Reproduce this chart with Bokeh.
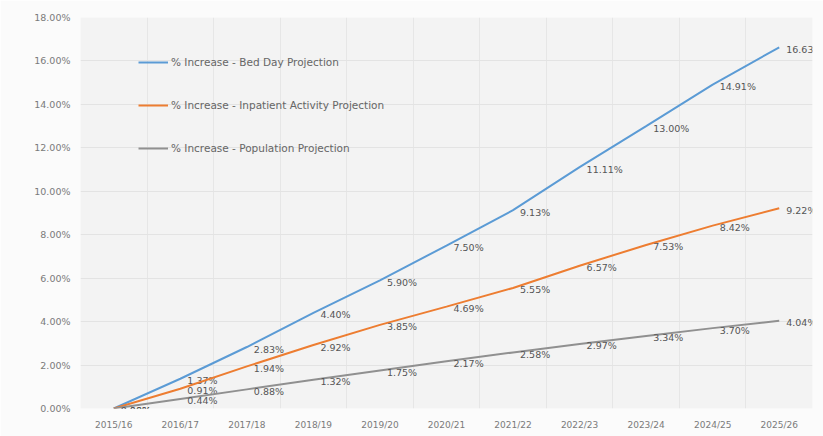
from bokeh.plotting import figure
from bokeh.models import FixedTicker, Legend, LegendItem, ColumnDataSource
from bokeh.core.properties import value
from bokeh.embed import file_html
from bokeh.resources import INLINE

years = ["2015/16", "2016/17", "2017/18", "2018/19", "2019/20", "2020/21",
         "2021/22", "2022/23", "2023/24", "2024/25", "2025/26"]
bed_day = [0.00, 1.37, 2.83, 4.40, 5.90, 7.50, 9.13, 11.11, 13.00, 14.91, 16.63]
inpatient = [0.00, 0.91, 1.94, 2.92, 3.85, 4.69, 5.55, 6.57, 7.53, 8.42, 9.22]
population = [0.00, 0.44, 0.88, 1.32, 1.75, 2.17, 2.58, 2.97, 3.34, 3.70, 4.04]
y_ticks = [0, 2, 4, 6, 8, 10, 12, 14, 16, 18]

series = [
    ("% Increase - Bed Day Projection", bed_day, "#5b9bd5"),
    ("% Increase - Inpatient Activity Projection", inpatient, "#ed7d31"),
    ("% Increase - Population Projection", population, "#909090"),
]

FONT = "DejaVu Sans"

p = figure(width=823, height=436, output_backend="svg", toolbar_location=None,
           x_range=(-0.5, 10.5), y_range=(0, 18),
           min_border_left=80, min_border_right=11, min_border_top=17, min_border_bottom=28)
p.background_fill_color = "#f3f3f3"
p.border_fill_color = "#fbfbfb"
p.outline_line_color = None

xs = list(range(len(years)))
p.xaxis.ticker = FixedTicker(ticks=xs)
p.xaxis.major_label_overrides = {i: y for i, y in enumerate(years)}
p.yaxis.ticker = FixedTicker(ticks=y_ticks)
p.yaxis.major_label_overrides = {t: f"{t:.2f}%" for t in y_ticks}
for ax in (p.xaxis[0], p.yaxis[0]):
    ax.axis_line_color = None
    ax.major_tick_line_color = None
    ax.minor_tick_line_color = None
    ax.major_tick_out = 0
    ax.minor_tick_out = 0
    ax.major_label_text_font = FONT
    ax.major_label_text_color = "#7a7a7a"
p.xaxis.major_label_text_font_size = "9px"
p.yaxis.major_label_text_font_size = "9.5px"
p.xaxis.major_label_standoff = 11
p.yaxis.major_label_standoff = 10

p.xgrid.ticker = FixedTicker(ticks=[i + 0.5 for i in range(len(years) - 1)])
p.xgrid.grid_line_color = "#e6e6e6"
p.ygrid.grid_line_color = "#e3e3e3"

items = []
for name, vals, color in series:
    src = ColumnDataSource(dict(x=xs, y=vals, t=[f"{v:.2f}%" for v in vals]))
    r = p.line("x", "y", source=src, line_color=color, line_width=2)
    items.append(LegendItem(label=name, renderers=[r]))
    p.text("x", "y", text="t", source=src, x_offset=7, y_offset=2,
           text_align="left", text_baseline="middle",
           text_font=value(FONT), text_font_size="9.5px", text_color="#555555")

legend = Legend(items=items, location=(58, 252), orientation="vertical",
                glyph_width=30, glyph_height=16, spacing=27, label_standoff=3,
                padding=0, margin=0,
                label_text_font=FONT, label_text_font_size="10.5px",
                label_text_color="#666666",
                background_fill_alpha=0, border_line_alpha=0)
p.add_layout(legend, "center")

out = open("out.html", "w")
out.write(file_html(p, INLINE))
out.close()
